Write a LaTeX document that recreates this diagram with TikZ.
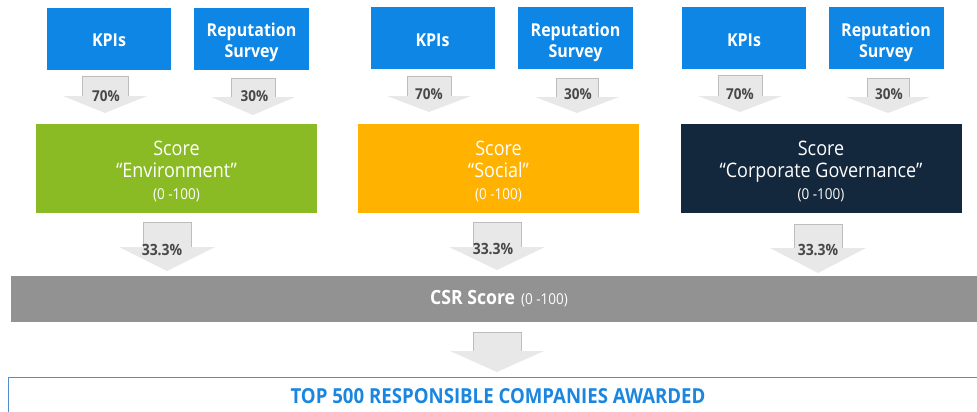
\documentclass[tikz,border=0pt]{standalone}
\usepackage{fontspec}
\setmainfont{Open Sans}[FakeStretch=0.9]
\definecolor{kpiblue}{HTML}{0D86E6}
\definecolor{envgreen}{HTML}{8ABB24}
\definecolor{socorange}{HTML}{FFB200}
\definecolor{govnavy}{HTML}{13273D}
\definecolor{csrgray}{HTML}{929292}
\definecolor{arrowfill}{HTML}{E8E8E8}
\definecolor{arrowline}{HTML}{BDBDBD}
\definecolor{labelgray}{HTML}{484848}
\definecolor{topblue}{HTML}{1A86E0}
\definecolor{frameblue}{HTML}{4F8FCF}
% block arrow: centre x, top y, head base y, tip y, shaft half width, head half width
\newcommand{\blockarr}[6]{%
  \fill[arrowfill] ({#1-#5},#2) -- ({#1+#5},#2) -- ({#1+#5},#3) -- ({#1+#6},#3) -- (#1,#4) -- ({#1-#6},#3) -- ({#1-#5},#3) -- cycle;
  \draw[arrowedge] ({#1-#5},#3) -- ({#1-#5},#2) -- ({#1+#5},#2) -- ({#1+#5},#3);}
\tikzset{
  inbox/.style={rectangle, fill=kpiblue, inner sep=0pt, minimum height=62pt},
  kpibox/.style={inbox, minimum width=124pt},
  repbox/.style={inbox, minimum width=115pt},
  boxtext/.style={text=white, align=center, inner sep=0pt, font=\fontsize{17.8}{21}\selectfont\bfseries},
  scorebox/.style={rectangle, inner sep=0pt, minimum width=281pt, minimum height=89pt},
  scoretext/.style={text=white, align=center, inner sep=0pt, font=\fontsize{20}{22.5}\selectfont},
  arrowedge/.style={draw=arrowline, line width=0.8pt},
  pct/.style={text=labelgray, font=\fontsize{15}{16}\selectfont\bfseries, inner sep=0pt},
  bigpct/.style={text=labelgray, font=\fontsize{15.5}{16}\selectfont\bfseries, inner sep=0pt},
}
\newcommand{\rng}{{\fontsize{15}{16}\selectfont (0 -100)}}
\begin{document}
\begin{tikzpicture}[x=1pt, y=-1pt]
\useasboundingbox (0,0) rectangle (977,412);
% top input boxes
\node[kpibox] (kpi1) at (109,39) {};
\node[repbox] (rep1) at (251.5,39) {};
\node[kpibox] (kpi2) at (432.5,38.5) {};
\node[repbox] (rep2) at (575.5,38.5) {};
\node[kpibox] (kpi3) at (744,38.5) {};
\node[repbox] (rep3) at (886,38.5) {};
\node[boxtext] (kpi1t) at (kpi1.center) [yshift=-1.5pt] {KPIs};
\node[boxtext] (rep1t) at (rep1.center) [yshift=-3.5pt] {Reputation\\Survey};
\node[boxtext] (kpi2t) at (kpi2.center) [yshift=-1.5pt] {KPIs};
\node[boxtext] (rep2t) at (rep2.center) [yshift=-3.5pt] {Reputation\\Survey};
\node[boxtext] (kpi3t) at (kpi3.center) [yshift=-1.5pt] {KPIs};
\node[boxtext] (rep3t) at (rep3.center) [yshift=-3.5pt] {Reputation\\Survey};
% top arrows
\blockarr{105}{76}{96}{113}{23}{42}
\blockarr{253}{78}{97}{115}{22}{42}
\blockarr{429}{76}{96}{112}{22}{42}
\blockarr{577}{78}{97}{113}{21}{42}
\blockarr{740}{75}{96}{112}{22}{42}
\blockarr{888}{78}{97}{113}{21}{42}
\node[pct] (w1) at (106,96) {70\%};
\node[pct] (w2) at (254.5,96) {30\%};
\node[pct] (w3) at (429,94) {70\%};
\node[pct] (w4) at (578,94) {30\%};
\node[pct] (w5) at (740,94) {70\%};
\node[pct] (w6) at (889,94) {30\%};
% score boxes
\node[scorebox, fill=envgreen] (env) at (176.5,168.5) {};
\node[scorebox, fill=socorange] (soc) at (498.5,168.5) {};
\node[scorebox, fill=govnavy] (gov) at (821,168.5) {};
\node[scoretext] (envt) at (176.5,171.5) {Score\\“Environment”\\[-0.5pt]\rng};
\node[scoretext] (soct) at (498.5,171.5) {Score\\“Social”\\[-0.5pt]\rng};
\node[scoretext] (govt) at (821,171.5) {Score\\“Corporate Governance”\\[-0.5pt]\rng};
% 33.3% arrows
\blockarr{167}{222}{247}{271}{24}{48}
\blockarr{497}{222}{247}{270}{24}{48}
\blockarr{818}{224}{248}{273}{24}{48}
\node[bigpct] (t1) at (162,250) {33.3\%};
\node[bigpct] (t2) at (493,249) {33.3\%};
\node[bigpct] (t3) at (818,250) {33.3\%};
% CSR bar
\node[rectangle, fill=csrgray, minimum width=974pt, minimum height=46pt, inner sep=0pt] (csr) at (498,299) {};
\node[text=white, inner sep=0pt] (csrtext) at (499,299) {{\fontsize{19.6}{22}\selectfont\bfseries CSR Score}\hspace{6pt}\rng};
% bottom arrow
\blockarr{497}{332}{351}{372}{24}{47}
% awarded frame
\node[rectangle, draw=frameblue, line width=0.8pt, minimum width=980pt, minimum height=60pt, inner sep=0pt, anchor=north west] (award) at (8,377) {};
\node[text=topblue, inner sep=0pt, font=\fontsize{20.7}{24}\selectfont\bfseries] (awardtext) at (498,396) {TOP 500 RESPONSIBLE COMPANIES AWARDED};
\end{tikzpicture}
\end{document}
